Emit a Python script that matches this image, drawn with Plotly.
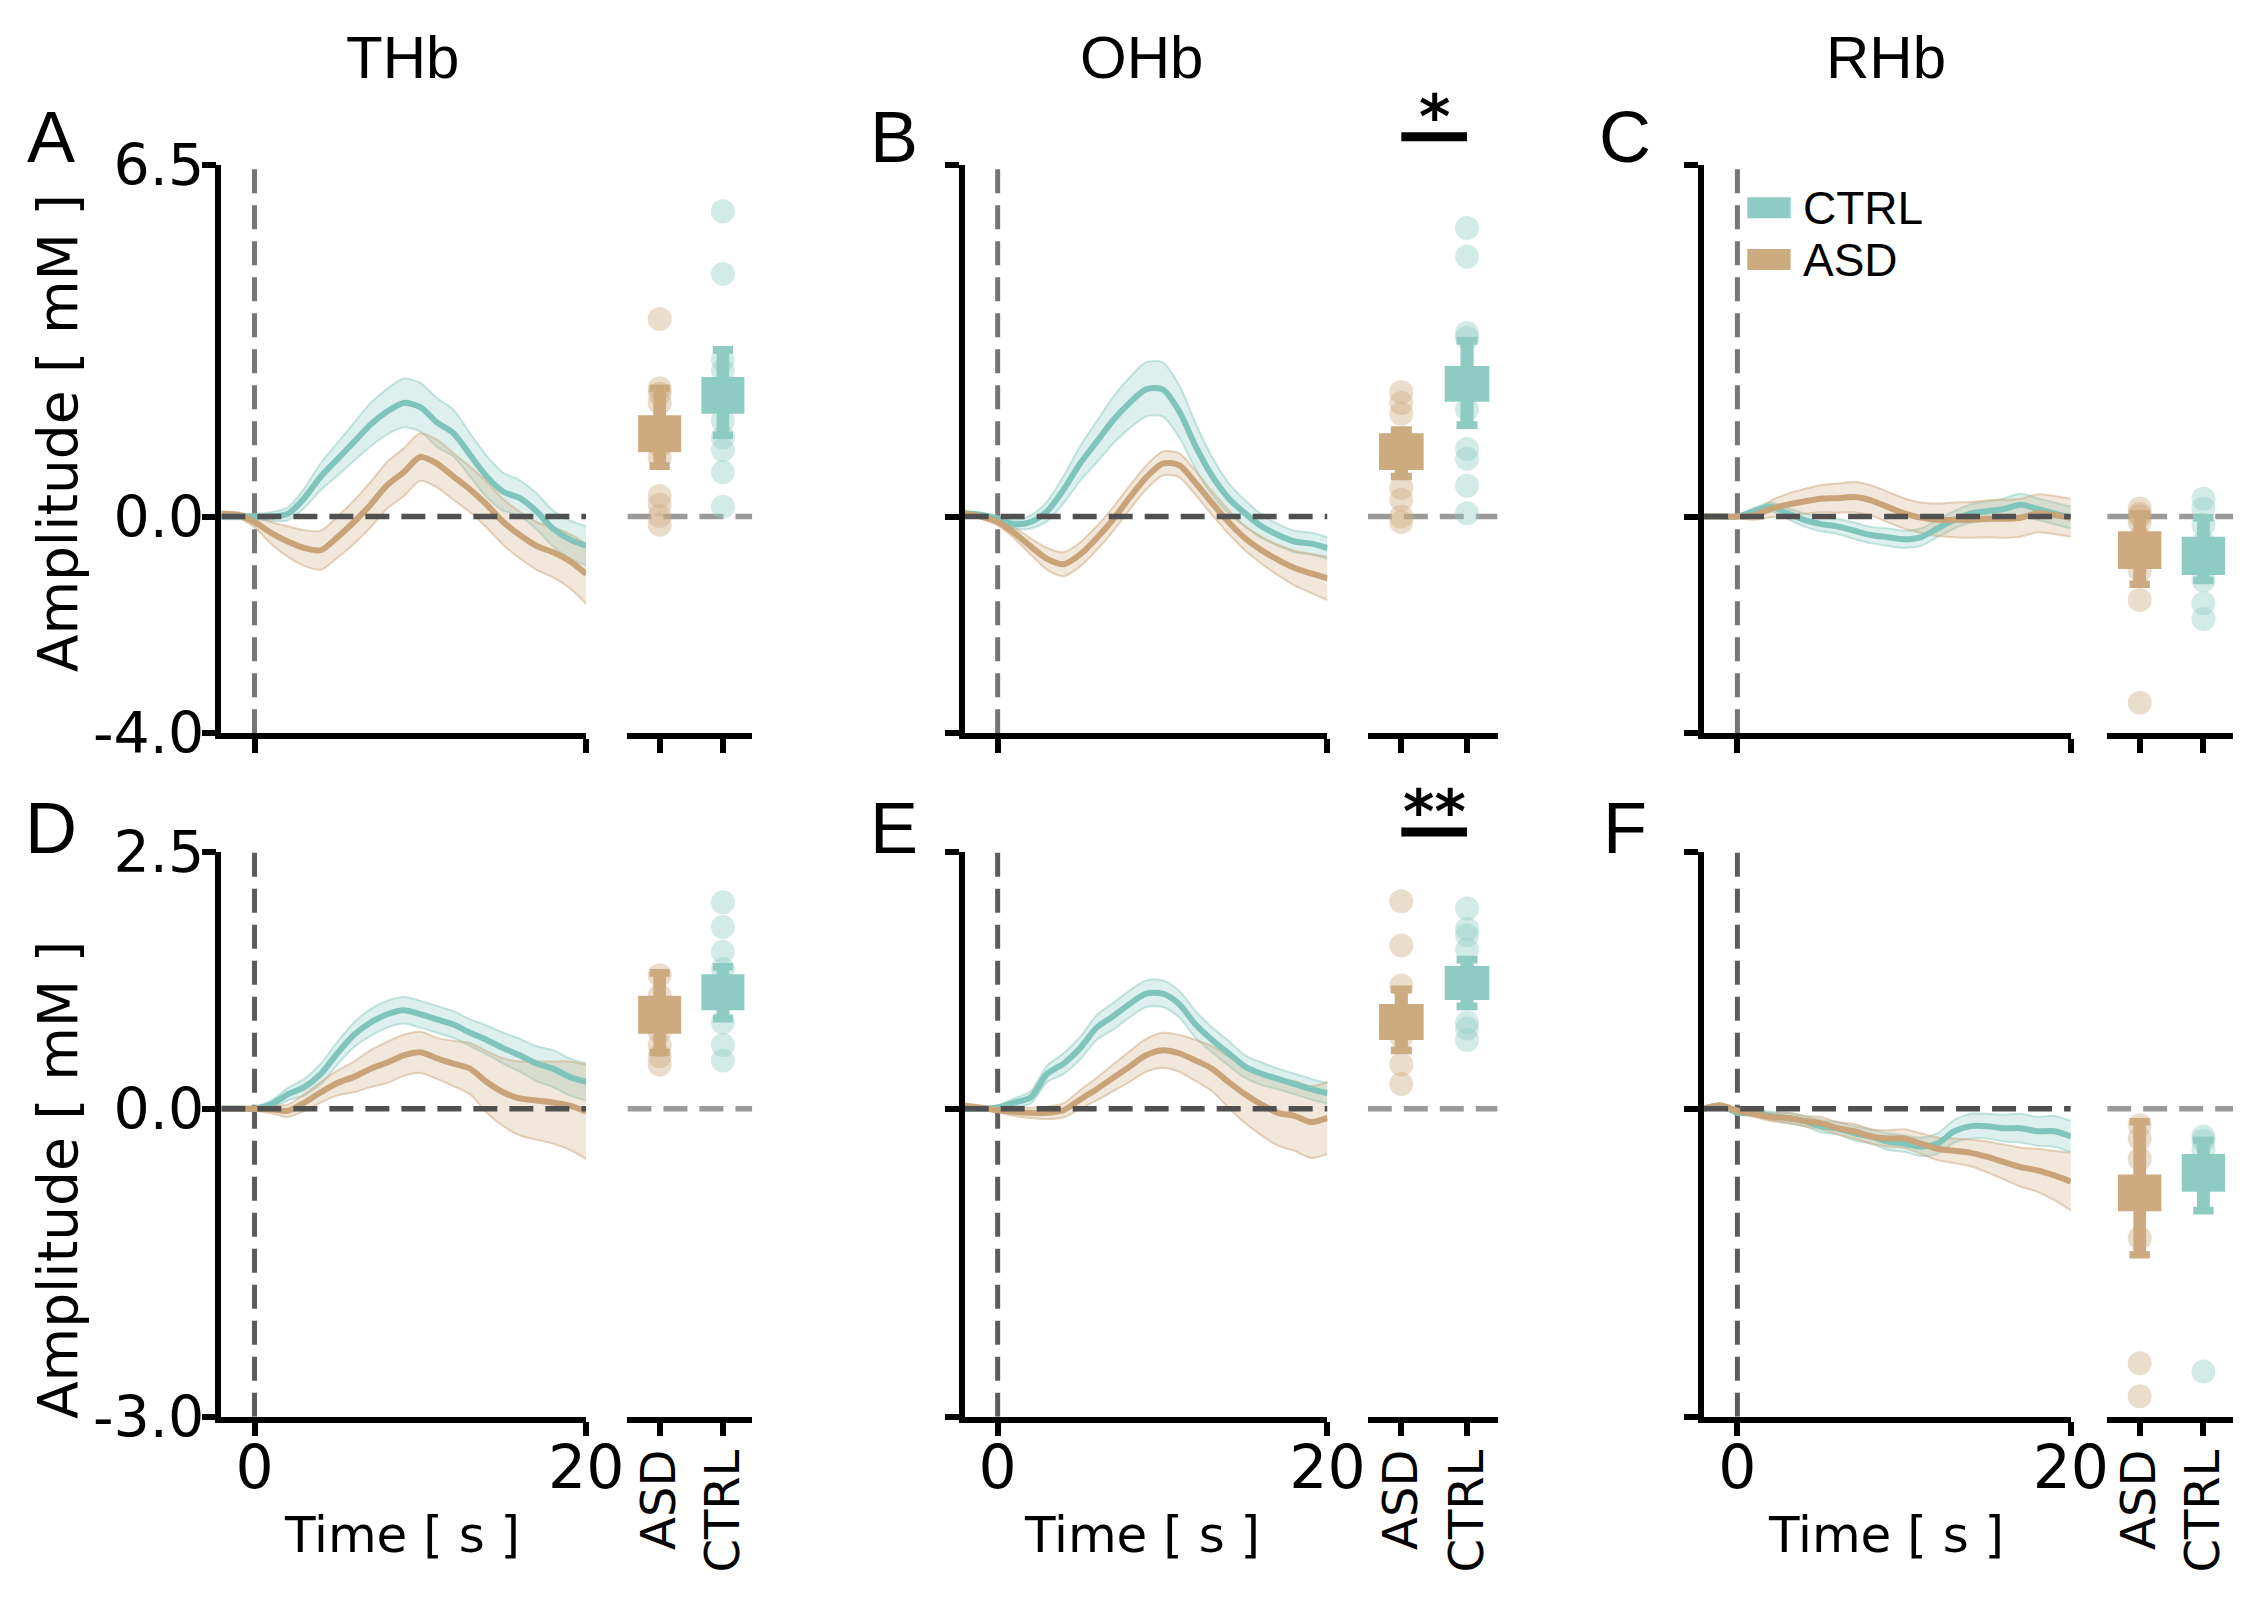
import plotly.graph_objects as go

# ---------------- data ----------------
time_s = list(range(-2, 21))
panels = ["A", "B", "C", "D", "E", "F"]
col_titles = ["THb", "OHb", "RHb"]
groups = ["ASD", "CTRL"]

ctrl_mean = {
    "A": [0.0, 0.0, 0.0, 0.0, 0.05, 0.34, 0.74, 1.06, 1.38, 1.7, 1.94, 2.1, 2.02, 1.74, 1.54, 1.14, 0.74, 0.46, 0.34, 0.1, -0.22, -0.42, -0.54],
    "B": [0.06, 0.03, -0.04, -0.14, -0.1, 0.1, 0.5, 0.98, 1.38, 1.78, 2.1, 2.35, 2.35, 1.95, 1.3, 0.75, 0.34, 0.06, -0.18, -0.34, -0.46, -0.5, -0.58],
    "C": [0.0, 0.0, 0.0, 0.1, 0.18, 0.06, -0.06, -0.14, -0.18, -0.26, -0.34, -0.38, -0.42, -0.38, -0.22, -0.06, 0.06, 0.1, 0.14, 0.22, 0.14, 0.06, -0.02],
    "D": [0.0, 0.0, 0.0, 0.04, 0.14, 0.21, 0.34, 0.54, 0.72, 0.84, 0.92, 0.96, 0.92, 0.87, 0.82, 0.74, 0.67, 0.59, 0.52, 0.44, 0.39, 0.31, 0.26],
    "E": [0.0, 0.0, 0.01, 0.06, 0.11, 0.34, 0.44, 0.59, 0.79, 0.9, 1.02, 1.12, 1.12, 1.02, 0.82, 0.67, 0.54, 0.41, 0.34, 0.29, 0.24, 0.19, 0.15],
    "F": [0.0, 0.03, -0.04, -0.04, -0.07, -0.09, -0.12, -0.17, -0.19, -0.24, -0.27, -0.32, -0.34, -0.37, -0.34, -0.22, -0.17, -0.17, -0.19, -0.19, -0.22, -0.22, -0.27],
}
ctrl_sem = {
    "A": [0.05, 0.05, 0.05, 0.08, 0.12, 0.18, 0.25, 0.3, 0.35, 0.4, 0.42, 0.45, 0.45, 0.45, 0.43, 0.4, 0.38, 0.35, 0.33, 0.33, 0.33, 0.35, 0.36],
    "B": [0.04, 0.04, 0.05, 0.08, 0.12, 0.18, 0.25, 0.32, 0.38, 0.43, 0.47, 0.5, 0.5, 0.48, 0.42, 0.35, 0.28, 0.24, 0.22, 0.2, 0.2, 0.2, 0.2],
    "C": [0.03, 0.03, 0.03, 0.06, 0.08, 0.1, 0.12, 0.13, 0.14, 0.15, 0.15, 0.16, 0.16, 0.16, 0.16, 0.16, 0.17, 0.18, 0.2, 0.2, 0.2, 0.2, 0.2],
    "D": [0.02, 0.02, 0.02, 0.04, 0.06, 0.08, 0.1, 0.11, 0.12, 0.13, 0.13, 0.13, 0.13, 0.13, 0.13, 0.13, 0.14, 0.15, 0.16, 0.17, 0.18, 0.18, 0.18],
    "E": [0.02, 0.02, 0.02, 0.04, 0.06, 0.08, 0.1, 0.11, 0.12, 0.13, 0.13, 0.13, 0.13, 0.13, 0.13, 0.12, 0.12, 0.11, 0.11, 0.1, 0.1, 0.1, 0.1],
    "F": [0.02, 0.02, 0.02, 0.03, 0.04, 0.05, 0.05, 0.06, 0.06, 0.07, 0.07, 0.08, 0.08, 0.09, 0.1, 0.11, 0.12, 0.12, 0.13, 0.14, 0.14, 0.15, 0.15],
}
asd_mean = {
    "A": [0.05, 0.03, -0.1, -0.3, -0.46, -0.58, -0.62, -0.38, -0.1, 0.22, 0.58, 0.82, 1.1, 0.98, 0.74, 0.5, 0.22, -0.1, -0.34, -0.54, -0.66, -0.82, -1.06],
    "B": [0.06, 0.0, -0.1, -0.3, -0.55, -0.78, -0.88, -0.7, -0.4, -0.05, 0.35, 0.72, 0.98, 0.95, 0.62, 0.25, -0.1, -0.4, -0.62, -0.8, -0.95, -1.05, -1.14],
    "C": [0.0, 0.0, 0.0, 0.02, 0.14, 0.22, 0.28, 0.33, 0.34, 0.36, 0.3, 0.18, 0.06, -0.02, -0.06, -0.06, -0.06, -0.04, -0.04, -0.02, 0.06, 0.03, -0.02],
    "D": [0.0, 0.0, 0.0, -0.005, -0.02, 0.06, 0.16, 0.25, 0.31, 0.39, 0.45, 0.52, 0.55, 0.49, 0.44, 0.39, 0.26, 0.16, 0.1, 0.08, 0.06, 0.03, -0.03],
    "E": [0.03, 0.01, -0.015, -0.03, -0.04, -0.04, -0.015, 0.09, 0.19, 0.3, 0.41, 0.52, 0.57, 0.54, 0.47, 0.39, 0.26, 0.14, 0.04, -0.04, -0.07, -0.13, -0.09],
    "F": [0.0, 0.03, -0.02, -0.05, -0.08, -0.09, -0.12, -0.14, -0.19, -0.22, -0.27, -0.29, -0.29, -0.34, -0.39, -0.41, -0.43, -0.47, -0.52, -0.57, -0.6, -0.65, -0.71],
}
asd_sem = {
    "A": [0.05, 0.05, 0.1, 0.2, 0.28, 0.33, 0.36, 0.38, 0.4, 0.42, 0.43, 0.44, 0.44, 0.44, 0.43, 0.42, 0.42, 0.42, 0.43, 0.44, 0.46, 0.5, 0.55],
    "B": [0.04, 0.04, 0.06, 0.1, 0.15, 0.2, 0.22, 0.22, 0.22, 0.22, 0.22, 0.22, 0.22, 0.22, 0.22, 0.22, 0.22, 0.22, 0.25, 0.28, 0.32, 0.36, 0.4],
    "C": [0.03, 0.03, 0.03, 0.08, 0.15, 0.2, 0.23, 0.25, 0.27, 0.28, 0.28, 0.28, 0.28, 0.28, 0.3, 0.32, 0.33, 0.34, 0.35, 0.35, 0.35, 0.35, 0.35],
    "D": [0.02, 0.02, 0.02, 0.04, 0.06, 0.08, 0.1, 0.12, 0.15, 0.18, 0.2, 0.2, 0.2, 0.2, 0.22, 0.25, 0.3, 0.33, 0.36, 0.38, 0.4, 0.43, 0.46],
    "E": [0.02, 0.02, 0.02, 0.04, 0.05, 0.06, 0.07, 0.09, 0.11, 0.13, 0.15, 0.16, 0.17, 0.18, 0.2, 0.22, 0.25, 0.28, 0.3, 0.32, 0.34, 0.35, 0.35],
    "F": [0.02, 0.02, 0.02, 0.03, 0.04, 0.05, 0.05, 0.06, 0.06, 0.07, 0.07, 0.08, 0.09, 0.1, 0.11, 0.12, 0.13, 0.15, 0.17, 0.19, 0.21, 0.24, 0.28],
}

# summary: [box_lo, box_hi, whisker_lo, whisker_hi]
asd_summary = {
    "A": [1.19, 1.87, 0.86, 2.44], "B": [0.86, 1.54, 0.67, 1.67], "C": [-0.97, -0.27, -1.32, 0.12],
    "D": [0.73, 1.1, 0.51, 1.36], "E": [0.67, 1.02, 0.53, 1.2], "F": [-1.0, -0.64, -1.46, -0.09],
}
ctrl_summary = {
    "A": [1.9, 2.58, 1.43, 3.15], "B": [2.12, 2.78, 1.62, 3.32], "C": [-1.08, -0.37, -1.25, 0.05],
    "D": [0.96, 1.31, 0.84, 1.42], "E": [1.06, 1.39, 0.96, 1.49], "F": [-0.81, -0.44, -1.03, -0.27],
}
asd_points = {
    "A": [3.65, 2.37, 2.27, 2.1, 1.6, 1.3, 1.09, 0.38, 0.22, 0.01, -0.15],
    "B": [2.3, 2.1, 1.9, 1.2, 0.53, 0.31, 0.0, -0.1],
    "C": [0.15, 0.05, 0.0, -0.1, -0.4, -0.7, -1.0, -1.54, -3.44],
    "D": [1.3, 1.1, 0.9, 0.75, 0.62, 0.51, 0.43],
    "E": [2.02, 1.59, 1.2, 0.9, 0.7, 0.43, 0.24],
    "F": [-0.16, -0.29, -0.49, -0.8, -1.26, -2.48, -2.8],
}
ctrl_points = {
    "A": [5.64, 4.48, 2.9, 2.7, 2.3, 1.77, 1.46, 1.23, 0.82, 0.18],
    "B": [5.33, 4.8, 3.39, 3.3, 2.5, 1.98, 1.25, 1.07, 0.57, 0.06],
    "C": [0.33, 0.15, -0.15, -0.48, -0.7, -0.85, -1.18, -1.6, -1.89],
    "D": [2.01, 1.77, 1.53, 1.36, 1.1, 0.84, 0.62, 0.47],
    "E": [1.95, 1.75, 1.69, 1.55, 1.2, 0.84, 0.78, 0.67],
    "F": [-0.27, -0.31, -0.4, -0.6, -2.56],
}
row_ranges = [[-4.0, 6.5], [-3.0, 2.5]]
row_ticks = [[-4.0, 0.0, 6.5], [-3.0, 0.0, 2.5]]
row_ticktext = [["-4.0", "0.0", "6.5"], ["-3.0", "0.0", "2.5"]]
significance = {"B": "*", "E": "**"}

# ---------------- style / layout ----------------
W, H = 2266, 1597
TEAL = "#80c5bb"
TEAL_BOX = "#8ecbc3"
TAN = "#c8a478"
TAN_BOX = "#cdab80"
TEAL_FILL = "rgba(142,204,196,0.30)"
TAN_FILL = "rgba(205,170,125,0.28)"
TEAL_EDGE = "rgba(142,204,196,0.5)"
TAN_EDGE = "rgba(205,170,125,0.5)"
TEAL_PT = "rgba(142,204,196,0.40)"
TAN_PT = "rgba(205,170,125,0.40)"
FONT = "DejaVu Sans"
FONT2 = "Liberation Sans"
AXW = 5.5
TICKLEN = 14
DASH = "24px,12px"
VLINE_COLORS = ["#767676", "#5c5c5c"]

cols_time = [(217, 588), (973, 1342), (1725, 2098)]
cols_box = [(630, 757), (1383, 1515), (2135, 2263)]
rows_px = [(129, 722), (846, 1435)]
box_xrange = [-0.51, 1.465]
letter_xs = [44, 901, 1645]
letter_ys = [100, 821]
title_xs = [401, 1153, 1910]
title_y = 17
timelabel_xs = [401, 1153, 1910]
timelabel_y = 1558
amp_x = 51
amp_ys = [409, 1188]
sig_bar_ys = [100, 825]
legend_ys = [174, 228]


def fx(px):
    return px / W


def fy(py):
    return 1 - py / H


fig = go.Figure()
layout = dict(
    width=W, height=H, margin=dict(l=0, r=0, t=0, b=0),
    paper_bgcolor="white", plot_bgcolor="white", showlegend=False,
    font=dict(family=FONT, size=48, color="black"),
)
annotations = []
shapes = []

for p, name in enumerate(panels):
    r, c = divmod(p, 3)
    tid, bid = 2 * p + 1, 2 * p + 2
    xt, yt = f"x{tid}", f"y{tid}"
    xb, yb = f"x{bid}", f"y{bid}"
    yr = row_ranges[r]
    ydom = [fy(rows_px[r][1]), fy(rows_px[r][0])]
    px_per_unit = (rows_px[r][1] - rows_px[r][0]) / (yr[1] - yr[0])

    common_line = dict(showline=True, linecolor="black", linewidth=AXW, ticks="outside",
                       ticklen=TICKLEN, tickwidth=AXW, tickcolor="black", showgrid=False,
                       zeroline=False, fixedrange=True)
    layout[f"xaxis{tid}"] = dict(
        domain=[fx(cols_time[c][0]), fx(cols_time[c][1])], range=[-2, 20], anchor=yt,
        tickvals=[0, 20], ticktext=["0", "20"], showticklabels=(r == 1), ticklabelstandoff=-20,
        tickfont=dict(family=FONT, size=60), **common_line)
    layout[f"yaxis{tid}"] = dict(
        domain=ydom, range=yr, anchor=xt, tickvals=row_ticks[r], ticktext=row_ticktext[r],
        showticklabels=(c == 0), ticklabelstandoff=-14,
        tickfont=dict(family=FONT, size=57), **common_line)
    layout[f"xaxis{bid}"] = dict(
        domain=[fx(cols_box[c][0]), fx(cols_box[c][1])], range=box_xrange, anchor=yb,
        tickvals=[0, 1], ticktext=groups, showticklabels=(r == 1), tickangle=-90,
        ticklabelstandoff=-6, tickfont=dict(family=FONT, size=48), **common_line)
    layout[f"yaxis{bid}"] = dict(domain=ydom, range=yr, anchor=xb, showline=False,
                                 showticklabels=False, ticks="", showgrid=False,
                                 zeroline=False, fixedrange=True)

    # vertical dashed line at stimulus onset
    fig.add_trace(go.Scatter(x=[0, 0], y=yr, mode="lines", xaxis=xt, yaxis=yt,
                             line=dict(color=VLINE_COLORS[r], width=5, dash=DASH),
                             hoverinfo="skip"))

    # bands + mean lines
    for mean, sem, fill, edge in [(ctrl_mean[name], ctrl_sem[name], TEAL_FILL, TEAL_EDGE),
                                  (asd_mean[name], asd_sem[name], TAN_FILL, TAN_EDGE)]:
        lo = [m - s for m, s in zip(mean, sem)]
        hi = [m + s for m, s in zip(mean, sem)]
        fig.add_trace(go.Scatter(x=time_s, y=lo, mode="lines", xaxis=xt, yaxis=yt,
                                 line=dict(color=edge, width=2, shape="spline", smoothing=0.8),
                                 hoverinfo="skip"))
        fig.add_trace(go.Scatter(x=time_s, y=hi, mode="lines", xaxis=xt, yaxis=yt,
                                 fill="tonexty", fillcolor=fill,
                                 line=dict(color=edge, width=2, shape="spline", smoothing=0.8),
                                 hoverinfo="skip"))
    for mean, col in [(ctrl_mean[name], TEAL), (asd_mean[name], TAN)]:
        fig.add_trace(go.Scatter(x=time_s, y=mean, mode="lines", xaxis=xt, yaxis=yt,
                                 line=dict(color=col, width=6, shape="spline", smoothing=0.8),
                                 hoverinfo="skip"))

    # horizontal zero lines
    fig.add_trace(go.Scatter(x=[-2, 20], y=[0, 0], mode="lines", xaxis=xt, yaxis=yt,
                             line=dict(color="#505050", width=5.5, dash=DASH),
                             hoverinfo="skip"))
    fig.add_trace(go.Scatter(x=box_xrange, y=[0, 0], mode="lines", xaxis=xb, yaxis=yb,
                             line=dict(color="#9a9a9a", width=5.5, dash=DASH),
                             hoverinfo="skip"))

    # summary "bone" shapes
    cap_h = 8.0 / px_per_unit
    for gi, (summ, boxcol) in enumerate([(asd_summary[name], TAN_BOX), (ctrl_summary[name], TEAL_BOX)]):
        blo, bhi, wlo, whi = summ
        xs, ys = [], []
        for half, y0, y1 in [(0.1, wlo, whi), (0.16, wlo, wlo + cap_h),
                             (0.16, whi - cap_h, whi), (0.34, blo, bhi)]:
            xs += [gi - half, gi + half, gi + half, gi - half, gi - half, None]
            ys += [y0, y0, y1, y1, y0, None]
        fig.add_trace(go.Scatter(x=xs, y=ys, mode="lines", fill="toself", fillcolor=boxcol,
                                 line=dict(width=0, color=boxcol), xaxis=xb, yaxis=yb,
                                 hoverinfo="skip"))
    for gi, (pts, pcol) in enumerate([(asd_points[name], TAN_PT), (ctrl_points[name], TEAL_PT)]):
        fig.add_trace(go.Scatter(x=[gi] * len(pts), y=pts, mode="markers", xaxis=xb, yaxis=yb,
                                 marker=dict(size=24, color=pcol, line=dict(width=0)),
                                 hoverinfo="skip"))

    # panel letters
    annotations.append(dict(text=name, x=fx(letter_xs[c]), y=fy(letter_ys[r]), xref="paper",
                            yref="paper", showarrow=False, xanchor="center", yanchor="middle",
                            font=dict(family=FONT2, size=72, color="black")))

    # significance
    if name in significance:
        bar_y = sig_bar_ys[r]
        d0 = (0 - box_xrange[0]) / (box_xrange[1] - box_xrange[0])
        d1 = (1 - box_xrange[0]) / (box_xrange[1] - box_xrange[0])
        shapes.append(dict(type="line", xref=f"{xb} domain", yref="paper", x0=d0, x1=d1,
                           y0=fy(bar_y), y1=fy(bar_y), line=dict(color="black", width=9)))
        annotations.append(dict(text="<b>" + significance[name] + "</b>", x=0.5, xref=xb,
                                y=fy(bar_y + 18), yref="paper", showarrow=False,
                                xanchor="center", yanchor="bottom",
                                font=dict(family=FONT, size=60, color="black")))

# column titles and axis labels
for c, t in enumerate(col_titles):
    annotations.append(dict(text=t, x=fx(title_xs[c]), y=fy(title_y), xref="paper", yref="paper",
                            showarrow=False, xanchor="center", yanchor="middle",
                            font=dict(family=FONT2, size=60, color="black")))
    annotations.append(dict(text="Time [ s ]", x=fx(timelabel_xs[c]), y=fy(timelabel_y),
                            xref="paper", yref="paper", showarrow=False, xanchor="center",
                            yanchor="middle", font=dict(family=FONT, size=50, color="black")))
for yy in amp_ys:
    annotations.append(dict(text="Amplitude [ mM ]", x=fx(amp_x), y=fy(yy), xref="paper",
                            yref="paper", showarrow=False, textangle=-90, xanchor="center",
                            yanchor="middle", font=dict(family=FONT, size=55, color="black")))

# legend (inside panel C)
for label, col, yc in [("CTRL", TEAL_BOX, legend_ys[0]), ("ASD", TAN_BOX, legend_ys[1])]:
    shapes.append(dict(type="rect", xref="paper", yref="paper", x0=fx(1769), x1=fx(1813),
                       y0=fy(yc + 11), y1=fy(yc - 11), fillcolor=col, line=dict(width=0)))
    annotations.append(dict(text=label, x=fx(1824), y=fy(yc), xref="paper", yref="paper",
                            showarrow=False, xanchor="left", yanchor="middle",
                            font=dict(family=FONT2, size=46, color="black")))

layout["annotations"] = annotations
layout["shapes"] = shapes
fig.update_layout(**layout)
fig.write_html("out.html")
